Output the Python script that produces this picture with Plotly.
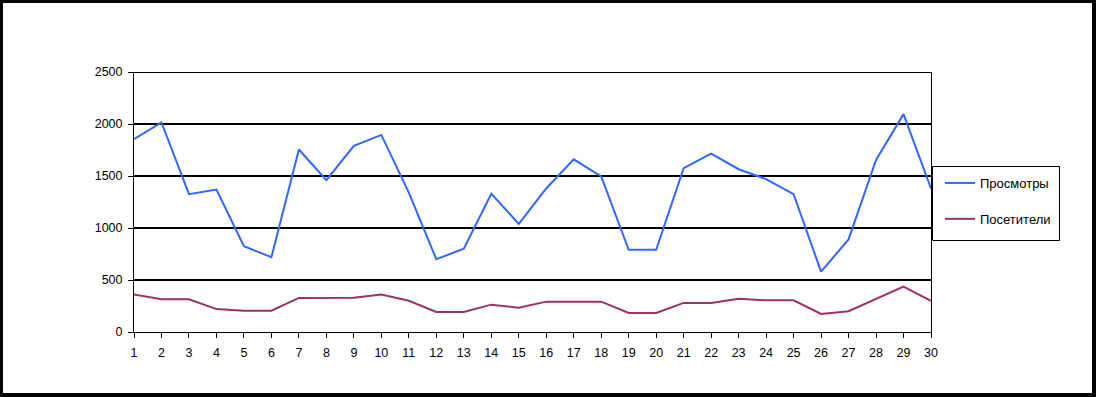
import plotly.graph_objects as go

days = list(range(1, 31))
x_tick_labels = [str(d) for d in days]
views = [1855, 2015, 1325, 1370, 825, 720, 1755, 1460, 1790, 1895,
         1340, 700, 800, 1330, 1040, 1380, 1660, 1495, 790, 790,
         1575, 1715, 1565, 1470, 1325, 580, 890, 1655, 2095, 1380]
visitors = [360, 315, 315, 220, 205, 205, 328, 328, 330, 360,
            300, 192, 192, 263, 234, 292, 292, 292, 183, 183,
            280, 280, 320, 305, 305, 173, 200, 314, 436, 300]
series_names = ["Просмотры", "Посетители"]
y_ticks = [0, 500, 1000, 1500, 2000, 2500]

W, H = 1096, 397
L, R, T, B = 134, 1096 - 931, 72, 397 - 332
pw, ph = W - L - R, H - T - B

def px(x):
    return (x - L) / pw

def py(y):
    return (H - B - y) / ph

FONT = "Arial, Liberation Sans, sans-serif"

fig = go.Figure()
fig.add_trace(go.Scatter(x=days, y=views, mode="lines", name=series_names[0],
                         line=dict(color="#3366FF", width=2), legendgroup="a"))
fig.add_trace(go.Scatter(x=days, y=visitors, mode="lines", name=series_names[1],
                         line=dict(color="#993366", width=2), legendgroup="b"))

shapes = []
# top gridline (plotly drops the grid line at the range edge)
shapes.append(dict(type="line", xref="paper", yref="y", x0=0, x1=1,
                   y0=y_ticks[-1], y1=y_ticks[-1], line=dict(color="black", width=2)))
# legend box
shapes.append(dict(type="rect", xref="paper", yref="paper",
                   x0=px(932.5), x1=px(1059.5), y0=py(240.5), y1=py(166.5),
                   fillcolor="white", line=dict(color="black", width=1), layer="above"))
# outer frame
for (x0, y0, x1, y1) in [(0, 0, 3, H), (0, 0, W, 3), (W - 4, 0, W, H), (0, H - 4, W, H)]:
    shapes.append(dict(type="rect", xref="paper", yref="paper",
                       x0=px(x0), x1=px(x1), y0=py(y1), y1=py(y0),
                       fillcolor="black", line=dict(width=0), layer="above"))

fig.update_layout(
    width=W, height=H,
    margin=dict(l=L, r=R, t=T, b=B, autoexpand=False),
    paper_bgcolor="white", plot_bgcolor="white",
    font=dict(family=FONT, size=12.5, color="black"),
    showlegend=True,
    legend=dict(x=px(932), y=py(168), xanchor="left", yanchor="top",
                borderwidth=0, bgcolor="rgba(0,0,0,0)",
                tracegroupgap=16, traceorder="grouped", indentation=8,
                font=dict(family=FONT, size=13, color="black")),
    shapes=shapes,
    xaxis=dict(range=[1, 30], tickmode="array", tickvals=days, ticktext=x_tick_labels,
               showgrid=False, showline=True, linecolor="black", linewidth=1,
               ticks="outside", ticklen=5, tickcolor="black", tickwidth=1,
               ticklabelstandoff=4, zeroline=False, fixedrange=True),
    yaxis=dict(range=[0, 2500], tickmode="array", tickvals=y_ticks,
               showgrid=True, gridcolor="black", gridwidth=2,
               showline=True, linecolor="black", linewidth=1, mirror=True,
               ticks="outside", ticklen=5, tickcolor="black", tickwidth=1,
               ticklabelstandoff=3, zeroline=False, fixedrange=True),
)

fig.write_html("out.html", config={"displayModeBar": False},
               post_script="document.body.style.margin='0';document.body.style.overflow='hidden';")
